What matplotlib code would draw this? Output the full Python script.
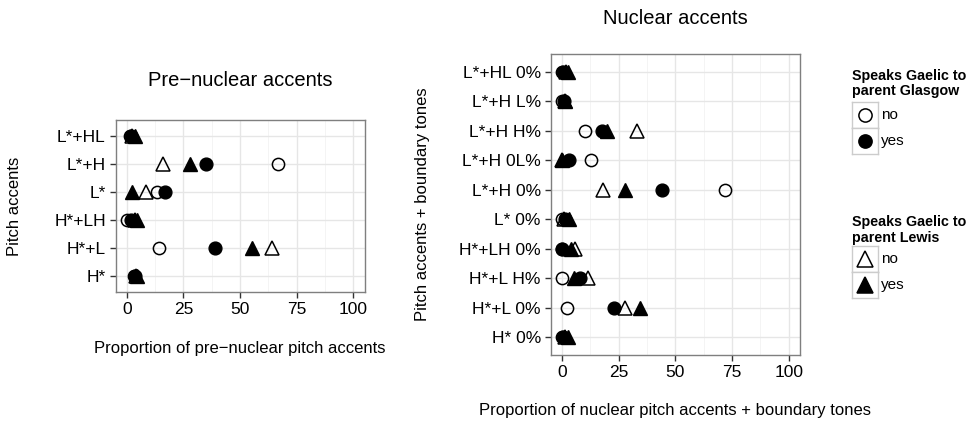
import numpy as np
import matplotlib.pyplot as plt
from matplotlib.lines import Line2D

plt.rcParams['font.family'] = ['Liberation Sans', 'DejaVu Sans']

# Pre-nuclear accents (bottom to top)
pre_cats = ['H*', 'H*+L', 'H*+LH', 'L*', 'L*+H', 'L*+HL']
pre_glasgow_no = [3, 14.1, 0, 13.4, 66.9, 1.5]
pre_glasgow_yes = [3.5, 39, 1.9, 16.9, 34.9, 2]
pre_lewis_no = [4, 64.1, 3.5, 8.5, 16.2, 2.5]
pre_lewis_yes = [4.5, 55.2, 4.5, 2.3, 27.9, 3.5]

# Nuclear accents + boundary tones (bottom to top)
nuc_cats = ['H* 0%', 'H*+L 0%', 'H*+L H%', 'H*+LH 0%', 'L* 0%',
            'L*+H 0%', 'L*+H 0L%', 'L*+H H%', 'L*+H L%', 'L*+HL 0%']
nuc_glasgow_no = [0, 2.3, 0, 0, 0, 72, 12.8, 10.3, 0, 0]
nuc_glasgow_yes = [0.3, 23.2, 7.8, 0, 1.5, 44.2, 3.3, 17.7, 1, 0.3]
nuc_lewis_no = [1.5, 27.8, 11.5, 5.8, 0.8, 18, 0, 33, 1.5, 2]
nuc_lewis_yes = [2.8, 34.6, 5.2, 4, 3.2, 27.7, 0, 19.8, 1.5, 2.5]

xticks = [0, 25, 50, 75, 100]

W, H = 973, 421
fig = plt.figure(figsize=(W / 100, H / 100), dpi=100)


def px_axes(x0, y0, x1, y1):
    # pixel box (top-left origin) -> figure axes
    return fig.add_axes([x0 / W, 1 - y1 / H, (x1 - x0) / W, (y1 - y0) / H])


def draw_panel(ax, cats, g_no, g_yes, l_no, l_yes):
    y = np.arange(len(cats))
    ax.plot(g_no, y, 'o', ms=8.8, mfc='none', mec='black', mew=1.1, zorder=3)
    ax.plot(g_yes, y, 'o', ms=9.2, mfc='black', mec='black', zorder=3)
    ax.plot(l_no, y, '^', ms=10, mfc='none', mec='black', mew=1.1, zorder=4)
    ax.plot(l_yes, y, '^', ms=10, mfc='black', mec='black', zorder=4)
    ax.set_xlim(-5, 105)
    ax.set_ylim(-0.6, len(cats) - 0.4)
    ax.set_yticks(y)
    ax.set_yticklabels(cats)
    ax.set_xticks(xticks)
    ax.set_xticks([12.5, 37.5, 62.5, 87.5], minor=True)
    ax.grid(True, which='major', color='#e6e6e6', lw=1.0)
    ax.grid(True, which='minor', axis='x', color='#f2f2f2', lw=0.6)
    ax.set_axisbelow(True)
    ax.tick_params(which='major', length=4, width=1, color='#333333',
                   labelsize=12.5, pad=3)
    ax.tick_params(which='minor', length=0)
    for s in ax.spines.values():
        s.set_color('#7f7f7f')
        s.set_linewidth(1)


ax1 = px_axes(115.5, 119.5, 364.5, 292.3)
draw_panel(ax1, pre_cats, pre_glasgow_no, pre_glasgow_yes,
           pre_lewis_no, pre_lewis_yes)
ax2 = px_axes(550.5, 54, 800, 355)
draw_panel(ax2, nuc_cats, nuc_glasgow_no, nuc_glasgow_yes,
           nuc_lewis_no, nuc_lewis_yes)

fig.text(240 / W, 1 - 80 / H, 'Pre\u2212nuclear accents', ha='center',
         va='center', fontsize=14.5)
fig.text(675 / W, 1 - 18 / H, 'Nuclear accents', ha='center',
         va='center', fontsize=14.5)
fig.text(240 / W, 1 - 348 / H, 'Proportion of pre\u2212nuclear pitch accents',
         ha='center', va='center', fontsize=12)
fig.text(675 / W, 1 - 410 / H,
         'Proportion of nuclear pitch accents + boundary tones',
         ha='center', va='center', fontsize=12)
fig.text(15 / W, 1 - 206 / H, 'Pitch accents', rotation=90,
         ha='center', va='center', fontsize=12)
fig.text(423 / W, 1 - 204.5 / H, 'Pitch accents + boundary tones',
         rotation=90, ha='center', va='center', fontsize=12)


def legend_block(title, title_y, box_top, marker):
    fig.text(852 / W, 1 - title_y / H, title, ha='left', va='center',
             fontsize=10.3, fontweight='bold', linespacing=1.15)
    for i, (lab, fc) in enumerate([('no', 'none'), ('yes', 'black')]):
        top = box_top + i * 26
        kax = px_axes(852, top, 878, top + 26)
        kax.set_xlim(0, 1)
        kax.set_ylim(0, 1)
        kax.set_xticks([])
        kax.set_yticks([])
        for s in kax.spines.values():
            s.set_color('#cccccc')
            s.set_linewidth(1)
        kax.add_line(Line2D([0.5], [0.5], marker=marker,
                            ms=9.5 if marker == 'o' else 11,
                            mfc=fc, mec='black', mew=1.1, ls='none'))
        fig.text(881 / W, 1 - (top + 13) / H, lab, ha='left', va='center',
                 fontsize=11)


legend_block('Speaks Gaelic to\nparent Glasgow', 83.5, 102, 'o')
legend_block('Speaks Gaelic to\nparent Lewis', 230, 246, '^')

fig.savefig('out.png', dpi=100)
